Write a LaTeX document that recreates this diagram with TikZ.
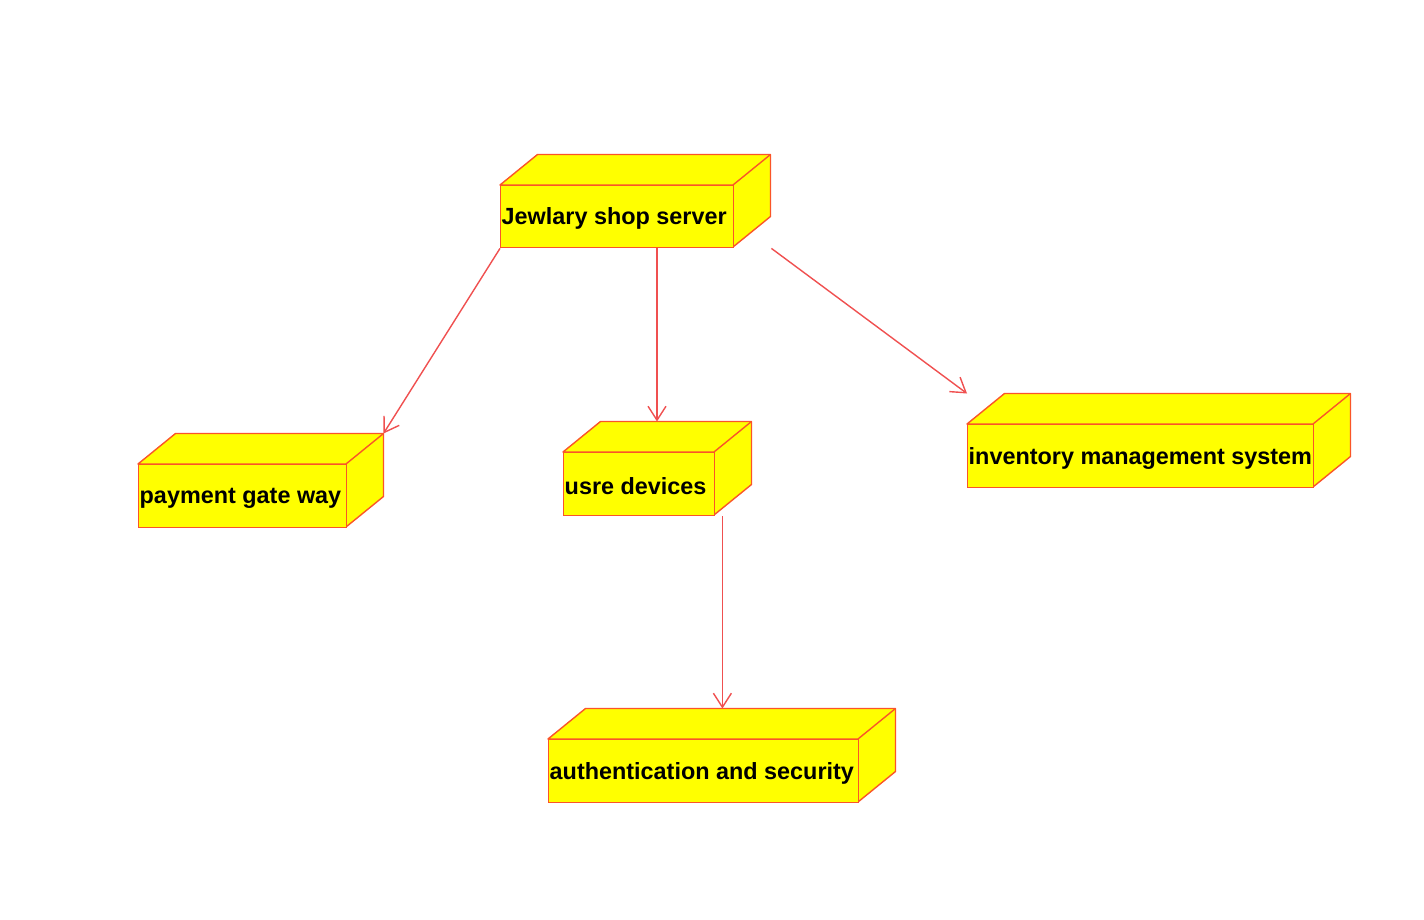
\documentclass[tikz,border=0pt]{standalone}
\usepackage{fontspec}
\setmainfont{Liberation Sans}
\usetikzlibrary{arrows.meta,calc}
\definecolor{nodefill}{RGB}{255,255,0}
\definecolor{nodeline}{RGB}{250,85,40}
\definecolor{linkline}{RGB}{240,80,80}
\tikzset{
  face/.style={draw=nodeline, fill=nodefill, line width=1.4pt, inner sep=0pt},
  nodetext/.style={font=\bfseries\fontsize{23.4}{28}\selectfont, text=black, inner sep=1.5pt, anchor=west},
  link/.style={draw=linkline, line width=1.4pt, -{Straight Barb[length=14pt,width=18pt,line width=1.4pt]}}
}
% \depnode{name}{x}{y}{width}{height}{label}: 3-D deployment box, (x,y) = front face top-left
\newcommand\depnode[6]{%
  \draw[face, line join=round] (#2,#3) -- ++(37.5,-30.5) -- ++(#4,0) -- ++(0,#5) -- ++(-37.5,30.5) -- ++(0,-#5) -- cycle;
  \draw[draw=nodeline, line width=1.4pt] (#2+#4,#3) -- ++(37.5,-30.5);
  \node[face, minimum width=#4pt, minimum height=#5pt, anchor=north west] (#1) at (#2,#3) {};
  \coordinate (#1-tr) at (#2+#4+37.5,#3-30.5);
  \coordinate (#1-tl) at (#2+37.5,#3-30.5);
  \node[nodetext] (#1-text) at ($(#1.west)+(0,2)$) {#6};
}
\begin{document}
\begin{tikzpicture}[x=1pt,y=-1pt]
  \useasboundingbox (0,0) rectangle (1424,920);
  \fill[white] (0,0) rectangle (1424,920);

  \depnode{server}{500}{185}{233}{62}{Jewlary shop server}
  \depnode{payment}{138}{464}{208}{63}{payment gate way}
  \depnode{devices}{563}{452}{151}{63}{usre devices}
  \depnode{inventory}{967}{424}{346}{63}{inventory management system}
  \depnode{auth}{548}{739}{310}{63}{authentication and security}

  \draw[link] (server.south west) -- (payment-tr);
  \coordinate (s2) at ($(server.south west)+(157,0)$);
  \draw[link] (s2) -- (s2 |- devices-tr);
  \coordinate (s3) at ($(server.south east)+(37,0)$);
  \draw[link] (s3) -- (inventory.north west |- inventory-tr);
  \coordinate (s4) at ($(devices.south east)+(7,0)$);
  \draw[link] (s4) -- (s4 |- auth-tr);
\end{tikzpicture}
\end{document}
